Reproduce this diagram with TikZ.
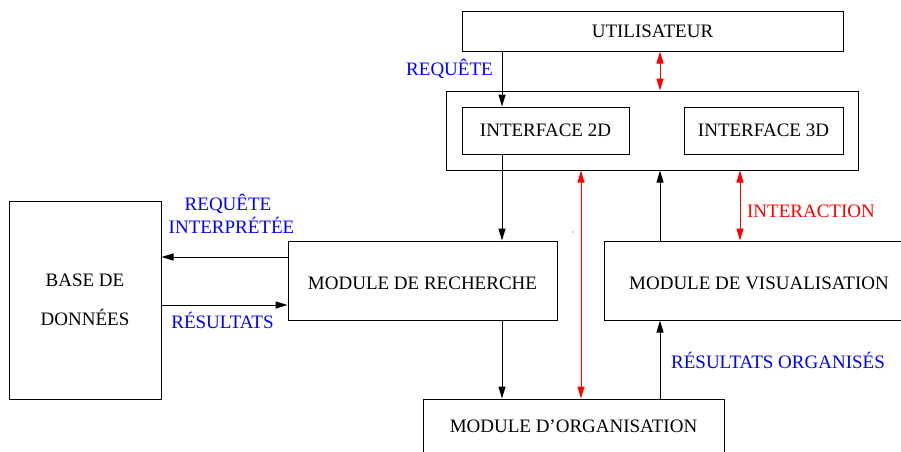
\documentclass[tikz,border=0pt]{standalone}
\usepackage{fontspec}
\setmainfont{Liberation Serif}
\usetikzlibrary{arrows.meta}
\definecolor{lblue}{RGB}{0,0,255}
\definecolor{lred}{RGB}{255,0,0}
\begin{document}
\begin{tikzpicture}[x=1pt,y=-1pt,
  box/.style={draw=black,line width=1pt,inner sep=0pt,font=\fontsize{19}{39}\selectfont,align=center},
  low/.style={text height=17.6pt,text depth=0pt},
  arr/.style={line width=1pt,-{Triangle[length=12pt,width=7pt]}},
  redarr/.style={line width=1pt,draw=lred,{Triangle[length=12pt,width=7pt]}-{Triangle[length=12pt,width=7pt]},color=lred},
  bluelbl/.style={text=lblue,font=\fontsize{19}{23}\selectfont,inner sep=0pt,align=center},
  redlbl/.style={text=lred,font=\fontsize{19}{23}\selectfont,inner sep=0pt}]
\useasboundingbox (0,0) rectangle (901,451);
% boxes
\node[box,minimum width=381pt,minimum height=40pt] (util) at (652.5,31) {UTILISATEUR};
\node[box,minimum width=412pt,minimum height=79pt] (iface) at (652,130.5) {};
\node[box,minimum width=167pt,minimum height=47pt] (i2d) at (545.5,130.5) {INTERFACE 2D};
\node[box,minimum width=159pt,minimum height=47pt] (i3d) at (763.5,130.5) {INTERFACE 3D};
\node[box,minimum width=152pt,minimum height=198pt] (base) at (85,300) {BASE DE\\DONNÉES};
\node[box,low,minimum width=269pt,minimum height=79pt] (rech) at (422.5,280.5) {MODULE DE RECHERCHE};
\node[box,low,minimum width=310pt,minimum height=79pt] (vis) at (759,280.5) {MODULE DE VISUALISATION};
\node[box,minimum width=301pt,minimum height=54pt] (org) at (573.5,426) {MODULE D’ORGANISATION};
% column / row helpers
\coordinate (c502) at (502,0);
\coordinate (c581) at (581,0);
\coordinate (c660) at (660,0);
\coordinate (c740) at (740,0);
\coordinate (r257) at (0,257);
\coordinate (r305) at (0,305);
% connectors
\draw[arr] (util.south -| c502) -- (i2d.north -| c502);
\draw[redarr] (util.south -| c660) -- (iface.north -| c660);
\draw[arr] (i2d.south -| c502) -- (rech.north -| c502);
\draw[redarr] (iface.south -| c581) -- (org.north -| c581);
\draw[arr] (vis.north -| c660) -- (iface.south -| c660);
\draw[redarr] (iface.south -| c740) -- (vis.north -| c740);
\draw[arr] (rech.west |- r257) -- (base.east |- r257);
\draw[arr] (base.east |- r305) -- (rech.west |- r305);
\draw[arr] (rech.south -| c502) -- (org.north -| c502);
\draw[arr] (org.north -| c660) -- (vis.south -| c660);
% labels
\node[bluelbl,anchor=base] (lreq) at (449.5,75.5) {REQUÊTE};
\node[bluelbl,anchor=base] (lreqi1) at (228,210.5) {REQUÊTE};
\node[bluelbl,anchor=base] (lreqi2) at (231.5,233.5) {INTERPRÉTÉE};
\node[bluelbl,anchor=base] (lres) at (222.5,328.5) {RÉSULTATS};
\node[redlbl,anchor=base] (linter) at (811,217.5) {INTERACTION};
\node[bluelbl,anchor=base] (lresorg) at (778,368.5) {RÉSULTATS ORGANISÉS};
\fill[black!70] (573,232) circle (0.6pt);
\end{tikzpicture}
\end{document}
